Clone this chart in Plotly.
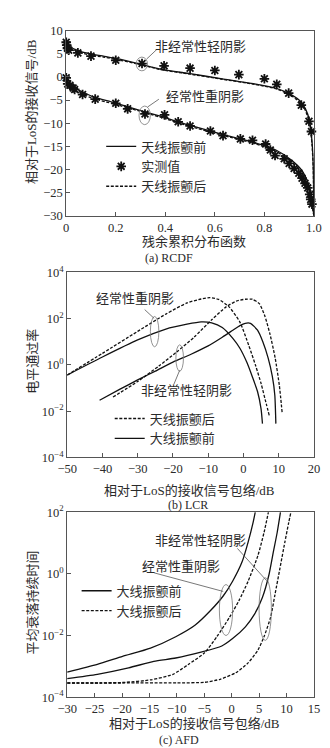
import plotly.graph_objects as go

# ---------------- data: (a) RCDF ----------------
rcdf_light_x = [0, 0.003, 0.008, 0.015, 0.03, 0.06, 0.1, 0.15, 0.2, 0.29, 0.38, 0.5, 0.63, 0.76, 0.85, 0.9, 0.94, 0.965, 0.983, 0.992, 0.997, 1.0]
rcdf_light_before = [8.0, 7.4, 7.0, 6.6, 6.1, 5.5, 5.0, 4.5, 4.0, 2.9, 1.7, 0.7, -0.4, -1.5, -2.5, -3.6, -5.0, -6.8, -9.6, -13.8, -18.7, -30]
rcdf_light_after = [7.6, 7.0, 6.6, 6.2, 5.7, 5.2, 4.7, 4.3, 3.8, 2.8, 1.6, 0.6, -0.5, -1.6, -2.6, -3.8, -5.3, -7.2, -10.2, -14.5, -19.5, -30]
rcdf_heavy_x = [0, 0.003, 0.009, 0.028, 0.06, 0.11, 0.19, 0.29, 0.38, 0.5, 0.63, 0.76, 0.85, 0.91, 0.95, 0.977, 0.99, 0.996, 1.0]
rcdf_heavy_before = [0.5, -0.5, -1.5, -2.2, -3.1, -4.3, -5.5, -7.1, -8.5, -10.5, -12.4, -14.2, -15.9, -18.0, -20.1, -23.0, -25.8, -28.5, -30]
rcdf_heavy_after = [0.0, -0.9, -1.9, -2.7, -3.6, -4.7, -5.8, -7.3, -8.7, -10.7, -12.6, -14.4, -16.2, -18.3, -20.5, -23.5, -26.3, -29.0, -30]
meas_light_x = [0.0, 0.002, 0.005, 0.01, 0.047, 0.1, 0.2, 0.306, 0.395, 0.5, 0.6, 0.697, 0.8, 0.85, 0.898, 0.949, 0.98, 0.99]
meas_light_y = [7.5, 6.9, 6.2, 5.8, 5.2, 4.5, 3.6, 2.9, 2.4, 1.9, 1.4, 0.5, -0.4, -1.6, -3.5, -6.1, -9.6, -11.8]
meas_heavy_x = [0.0, 0.006, 0.015, 0.028, 0.034, 0.066, 0.117, 0.2, 0.248, 0.318, 0.397, 0.452, 0.5, 0.582, 0.633, 0.703, 0.752, 0.805, 0.824, 0.843, 0.88, 0.9, 0.92, 0.939, 0.952, 0.964, 0.975, 0.983, 0.987, 0.992]
meas_heavy_y = [-0.2, -1.5, -1.8, -2.4, -2.7, -3.8, -4.8, -5.7, -6.9, -8.0, -8.2, -9.7, -10.6, -11.7, -12.7, -13.4, -13.7, -14.5, -15.8, -17.0, -17.7, -18.7, -19.8, -20.8, -21.9, -23.0, -24.0, -25.4, -26.5, -27.5]

# ---------------- data: (b) LCR ----------------
lcr_heavy_after_x = [-50, -40, -30, -22, -16, -12, -9.5, -7, -4, -1, 1.5, 3.5, 5, 6.5, 7.4]
lcr_heavy_after_y = [0.363, 3.16, 28.2, 158, 479, 708, 813, 676, 316, 70.8, 7.08, 0.891, 0.158, 0.0200, 0.00589]
lcr_heavy_before_x = [-50, -40, -30, -22, -16, -12, -9, -6, -3, -1, 1, 2.5, 4, 5, 5.4]
lcr_heavy_before_y = [0.363, 2.19, 12.0, 35.5, 57.5, 72.4, 66.1, 41.7, 14.1, 5.25, 1.26, 0.316, 0.0708, 0.0126, 0.00288]
lcr_light_after_x = [-37, -30, -24, -19, -14, -9, -5, -2, 0.5, 2.5, 4.5, 6, 7.5, 9, 10.2, 11.0]
lcr_light_after_y = [0.0407, 0.191, 0.891, 3.55, 15.8, 89.1, 316, 575, 692, 692, 447, 141, 22.4, 2.0, 0.126, 0.00813]
lcr_light_before_x = [-40.8, -35, -30, -25, -20, -15, -10, -6, -3, -1, 0.5, 2, 4, 5.5, 7, 8.2, 8.9, 9.2]
lcr_light_before_y = [0.0295, 0.0891, 0.224, 0.537, 1.32, 2.82, 6.61, 15.8, 31.6, 50.1, 63.1, 63.1, 31.6, 10.0, 2.0, 0.316, 0.0501, 0.00288]

# ---------------- data: (c) AFD ----------------
afd_heavy_before_x = [-30, -24.5, -19.9, -14.8, -10.2, -6.7, -3.9, -1.55, 0.17, 1.9, 3.0, 3.9, 4.3]
afd_heavy_before_y = [6.46e-4, 1.15e-3, 2.09e-3, 3.89e-3, 9.12e-3, 0.0214, 0.0631, 0.191, 0.575, 2.45, 10.7, 45.7, 100]
afd_heavy_after_x = [-30, -24, -19.4, -14.8, -10.7, -7.9, -5.0, -2.7, -0.4, 1.3, 3.0, 4.8, 5.9, 6.7]
afd_heavy_after_y = [2.88e-4, 2.88e-4, 3.02e-4, 3.63e-4, 5.5e-4, 1.15e-3, 2.69e-3, 9.12e-3, 0.0389, 0.132, 0.575, 3.98, 21.9, 100]
afd_light_before_x = [-30, -24.5, -18.8, -14.2, -10.2, -5.6, -1.8, 0.17, 2.5, 4.2, 5.6, 6.8, 7.6, 8.3, 8.9]
afd_light_before_y = [3.98e-4, 5.5e-4, 8.91e-4, 1.45e-3, 1.86e-3, 2.88e-3, 4.57e-3, 7.94e-3, 0.0191, 0.0501, 0.170, 0.933, 5.13, 21.9, 100]
afd_light_after_x = [-30, -20, -10, -5.0, -2.1, 0.75, 3.0, 4.8, 5.9, 7.1, 7.9, 8.8, 9.7, 10.4, 10.8]
afd_light_after_y = [2.88e-4, 2.88e-4, 2.9e-4, 3.02e-4, 3.80e-4, 6.17e-4, 1.29e-3, 3.39e-3, 9.12e-3, 0.0389, 0.214, 1.51, 10.7, 45.7, 100]

# tick labels
rcdf_xticks = [0, 0.2, 0.4, 0.6, 0.8, 1.0]
rcdf_xtext = ["0", "0.2", "0.4", "0.6", "0.8", "1.0"]
lcr_yticks = [1e-4, 1e-2, 1, 1e2, 1e4]
lcr_ytext = ["10<sup>−4</sup>", "10<sup>−2</sup>", "10<sup>0</sup>", "10<sup>2</sup>", "10<sup>4</sup>"]
afd_yticks = [1e-4, 1e-2, 1, 1e2]
afd_ytext = ["10<sup>−4</sup>", "10<sup>−2</sup>", "10<sup>0</sup>", "10<sup>2</sup>"]

# ---------------- layout helpers ----------------
W, H = 330, 748
def PX(p):
    return p / W
def PY(p):
    return 1 - p / H

SERIF = "Liberation Serif, Noto Sans CJK SC, serif"
CJK = "Liberation Serif, Noto Sans CJK SC, sans-serif"
INK = "#111111"
TXT = "#2a2a2a"
DASH = "3px,1.6px"
LW = 1.3

fig = go.Figure()

def line(x, y, dash, name, xa, ya, legend, show):
    fig.add_trace(go.Scatter(x=x, y=y, mode="lines", name=name, xaxis=xa, yaxis=ya,
                             line=dict(color=INK, width=LW, dash=dash, shape="spline", smoothing=0.6),
                             legend=legend, showlegend=show, hoverinfo="skip"))

# (a)
line(rcdf_light_x, rcdf_light_before, "solid", "天线振颤前", "x", "y", "legend", True)
fig.add_trace(go.Scatter(x=meas_light_x, y=meas_light_y, mode="markers", name="实测值", xaxis="x", yaxis="y",
                         marker=dict(symbol="asterisk-open", size=8, color=INK, line=dict(color=INK, width=1.8)),
                         cliponaxis=False, legend="legend", showlegend=True, hoverinfo="skip"))
line(rcdf_light_x, rcdf_light_after, DASH, "天线振颤后", "x", "y", "legend", True)
line(rcdf_heavy_x, rcdf_heavy_before, "solid", "天线振颤前", "x", "y", "legend", False)
line(rcdf_heavy_x, rcdf_heavy_after, DASH, "天线振颤后", "x", "y", "legend", False)
fig.add_trace(go.Scatter(x=meas_heavy_x, y=meas_heavy_y, mode="markers", name="实测值", xaxis="x", yaxis="y",
                         marker=dict(symbol="asterisk-open", size=8, color=INK, line=dict(color=INK, width=1.8)),
                         cliponaxis=False, legend="legend", showlegend=False, hoverinfo="skip"))

# (b)
line(lcr_heavy_after_x, lcr_heavy_after_y, DASH, "天线振颤后", "x2", "y2", "legend2", True)
line(lcr_heavy_before_x, lcr_heavy_before_y, "solid", "大线振颤前", "x2", "y2", "legend2", True)
line(lcr_light_after_x, lcr_light_after_y, DASH, "天线振颤后", "x2", "y2", "legend2", False)
line(lcr_light_before_x, lcr_light_before_y, "solid", "大线振颤前", "x2", "y2", "legend2", False)

# (c)
line(afd_heavy_before_x, afd_heavy_before_y, "solid", "大线振颤前", "x3", "y3", "legend3", True)
line(afd_light_after_x, afd_light_after_y, DASH, "大线振颤后", "x3", "y3", "legend3", True)
line(afd_light_before_x, afd_light_before_y, "solid", "大线振颤前", "x3", "y3", "legend3", False)
line(afd_heavy_after_x, afd_heavy_after_y, DASH, "大线振颤后", "x3", "y3", "legend3", False)

axis_common = dict(showline=True, linecolor="#555", linewidth=1, mirror=True, ticks="inside", ticklen=4,
                   tickcolor="#555", showgrid=False, zeroline=False,
                   tickfont=dict(family=SERIF, size=12.5, color=TXT))

fig.update_layout(
    width=W, height=H, margin=dict(l=0, r=0, t=0, b=0),
    paper_bgcolor="white", plot_bgcolor="white", hovermode=False,
    xaxis=dict(domain=[PX(51), PX(313)], anchor="y", range=[0, 1], tickvals=rcdf_xticks, ticktext=rcdf_xtext, **axis_common),
    yaxis=dict(domain=[PY(203), PY(14)], anchor="x", range=[-30, 10], dtick=5, **axis_common),
    xaxis2=dict(domain=[PX(52), PX(313)], anchor="y2", range=[-50, 20], dtick=10, **axis_common),
    yaxis2=dict(domain=[PY(450), PY(261)], anchor="x2", type="log", range=[-4, 4], tickvals=lcr_yticks, ticktext=lcr_ytext, **axis_common),
    xaxis3=dict(domain=[PX(52), PX(313)], anchor="y3", range=[-30, 15], dtick=5, **axis_common),
    yaxis3=dict(domain=[PY(695), PY(506)], anchor="x3", type="log", range=[-4, 2], tickvals=afd_yticks, ticktext=afd_ytext, **axis_common),
    legend=dict(x=PX(88), y=PY(117), xanchor="left", yanchor="top", bgcolor="rgba(0,0,0,0)",
                font=dict(family=CJK, size=13, color=TXT), traceorder="normal"),
    legend2=dict(x=PX(97), y=PY(395), xanchor="left", yanchor="top", bgcolor="rgba(0,0,0,0)",
                 font=dict(family=CJK, size=13, color=TXT), traceorder="normal"),
    legend3=dict(x=PX(62), y=PY(571), xanchor="left", yanchor="top", bgcolor="rgba(0,0,0,0)",
                 font=dict(family=CJK, size=13, color=TXT), traceorder="normal"),
)

def text(t, x, y, angle=0, size=13, fam=CJK):
    fig.add_annotation(text=t, x=PX(x), y=PY(y), xref="paper", yref="paper", showarrow=False,
                       textangle=angle, font=dict(family=fam, size=size, color=TXT),
                       xanchor="center", yanchor="middle")

# axis titles and captions
text("相对于LoS的接收信号/dB", 15, 97, -90)
text("残余累积分布函数", 186, 229)
text("(a) RCDF", 160, 246, fam=SERIF, size=12)
text("电平通过率", 15, 352, -90)
text("相对于LoS的接收信号包络/dB", 181, 484)
text("(b) LCR", 180, 499, fam=SERIF, size=12)
text("平均衰落持续时间", 15, 598, -90)
text("相对于LoS的接收信号包络/dB", 187, 722)
text("(c) AFD", 170, 739, fam=SERIF, size=12)

# curve labels
text("非经常性轻阴影", 193, 30)
text("经常性重阴影", 198, 81)
text("经常性重阴影", 124, 288)
text("非经常性轻阴影", 178, 382)
text("非经常性轻阴影", 193, 535)
text("经常性重阴影", 172, 562)

GRAY = "#777"
def ellipse(x0, x1, y0, y1):
    fig.add_shape(type="circle", xref="paper", yref="paper", x0=PX(x0), x1=PX(x1), y0=PY(y1), y1=PY(y0),
                  line=dict(color=GRAY, width=0.8))
def leader(x0, y0, x1, y1):
    fig.add_shape(type="line", xref="paper", yref="paper", x0=PX(x0), y0=PY(y0), x1=PX(x1), y1=PY(y1),
                  line=dict(color="#555", width=0.8))

ellipse(125, 137, 41, 55)
leader(136, 43, 147, 33)
ellipse(128, 140, 91, 110)
leader(137, 92, 149, 84)

ellipse(140, 149, 306, 337)
leader(134, 299, 144, 308)
ellipse(167, 175, 335, 362)
leader(165, 375, 171, 361)

ellipse(213, 227, 580, 632)
leader(144, 568, 217, 587)
ellipse(255, 268, 573, 637)
leader(232, 543, 263, 576)

fig.write_html("out.html")
